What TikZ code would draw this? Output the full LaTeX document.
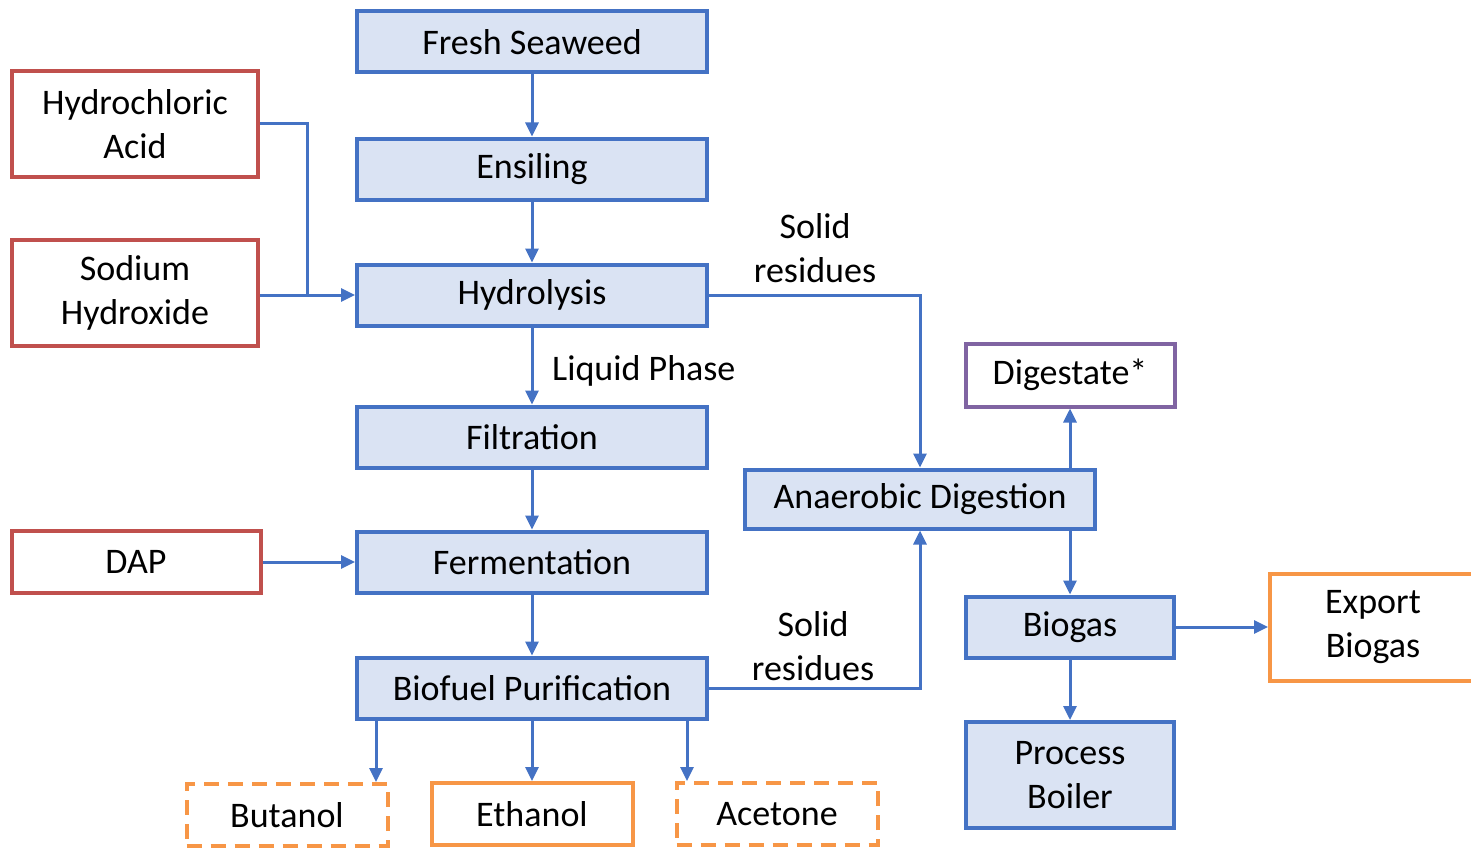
\documentclass[tikz,border=0pt]{standalone}
\usepackage{fontspec}
\setmainfont{Carlito}
\usetikzlibrary{arrows.meta, positioning}
\definecolor{LineBlue}{RGB}{68,114,196}
\definecolor{FillBlue}{RGB}{218,227,243}
\definecolor{InRed}{RGB}{192,80,77}
\definecolor{OutOrange}{RGB}{247,150,70}
\definecolor{OutPurple}{RGB}{128,100,162}

\begin{document}
\begin{tikzpicture}[x=1pt, y=-1pt, font=\fontsize{36}{44}\selectfont,
	proc/.style={rectangle, draw=LineBlue, line width=4pt, fill=FillBlue, minimum width=350pt, minimum height=61pt, inner sep=0pt, align=center},
	inp/.style={rectangle, draw=InRed, line width=4pt, fill=white, minimum width=246pt, minimum height=106pt, inner sep=0pt, align=center},
	prod/.style={rectangle, draw=OutOrange, line width=4pt, fill=white, minimum width=201pt, minimum height=62pt, inner sep=0pt, align=center},
	prodd/.style={prod, dash pattern=on 15pt off 9pt},
	ln/.style={line width=3pt, LineBlue, -{Triangle[length=14pt, width=13pt]}},
	lbl/.style={align=center, inner sep=0pt}]
	\useasboundingbox (0,0) rectangle (1471,848);
	% main line
	\node[proc] (seaweed) at (532,42) {Fresh Seaweed};
	\node[proc] (ensil) at (532,169) {Ensiling};
	\node[proc] (hydro) at (532,295) {Hydrolysis};
	\node[proc] (filt) at (532,437) {Filtration};
	\node[proc] (ferm) at (532,562) {Fermentation};
	\node[proc] (purif) at (532,688) {Biofuel Purification};
	% inputs
	\node[inp] (hcl) at (135,124) {Hydrochloric\\Acid};
	\node[inp] (naoh) at (135,293) {Sodium\\Hydroxide};
	\node[inp, minimum width=249pt, minimum height=62pt] (dap) at (136,562) {DAP};
	% products
	\node[prodd] (buta) at (287,815) {Butanol};
	\node[prod] (etha) at (532,814) {Ethanol};
	\node[prodd] (acet) at (777,814) {Acetone};
	% digestion side
	\node[proc, minimum height=59pt] (ad) at (920,499) {Anaerobic Digestion};
	\node[rectangle, draw=OutPurple, line width=4pt, minimum width=209pt, minimum height=63pt, inner sep=0pt] (dig) at (1070,375) {Digestate*};
	\node[proc, minimum width=208pt] (gas) at (1070,627) {Biogas};
	\node[proc, minimum width=208pt, minimum height=106pt] (boil) at (1070,775) {Process\\Boiler};
	\node[prod, minimum width=206pt, minimum height=107pt] (exp) at (1373,627) {Export\\Biogas};
	% connectors
	\draw[ln] (seaweed) -- (ensil);
	\draw[ln] (ensil) -- (hydro);
	\draw[ln] (hydro) -- (filt);
	\draw[ln] (filt) -- (ferm);
	\draw[ln] (ferm) -- (purif);
	\draw[ln] (dap) -- (ferm);
	\coordinate (jn) at (307,295);
	\draw[line width=3pt, LineBlue] (hcl.east) -| (jn);
	\draw[ln] (naoh.east |- jn) -- (hydro.west);
	\draw[ln] (hydro.east) -| (ad.north);
	\draw[ln] (purif.east) -| (ad.south);
	\draw[ln] (purif.south -| 376,0) -- (buta.north -| 376,0);
	\draw[ln] (purif) -- (etha);
	\draw[ln] (purif.south -| 687,0) -- (acet.north -| 687,0);
	\draw[ln] (ad.north -| dig) -- (dig.south);
	\draw[ln] (ad.south -| gas) -- (gas.north);
	\draw[ln] (gas) -- (exp);
	\draw[ln] (gas) -- (boil);
	% labels
	\node[lbl] (sr1) at (815,248) {Solid\\residues};
	\node[lbl] (sr2) at (813,646) {Solid\\residues};
	\node[lbl, anchor=west] (liq) at (552,371) {Liquid Phase};
\end{tikzpicture}
\end{document}
